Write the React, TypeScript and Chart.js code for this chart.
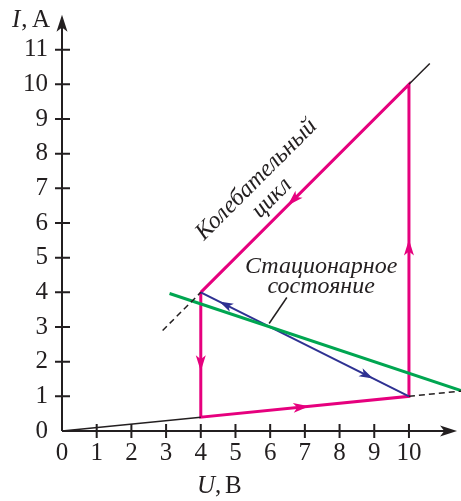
import React, { useEffect, useRef } from "react";
import { Chart, registerables } from "chart.js";

Chart.register(...registerables);

// ---- data ----
const X_TICKS = [0, 1, 2, 3, 4, 5, 6, 7, 8, 9, 10];
const Y_TICKS = [0, 1, 2, 3, 4, 5, 6, 7, 8, 9, 10, 11];
const X_MAX = 11.5;
const Y_MAX = 12;

// characteristic branches (black)
const LOWER_SOLID = [{ x: 0, y: 0 }, { x: 4, y: 0.4 }];
const LOWER_DASHED = [{ x: 10, y: 1 }, { x: 11.5, y: 1.15 }];
const UPPER_SOLID = [{ x: 10, y: 10 }, { x: 10.6, y: 10.6 }];
const UPPER_DASHED = [{ x: 2.9, y: 2.9 }, { x: 4, y: 4 }];
// oscillation cycle (magenta)
const CYCLE = [
  { x: 4, y: 4 },
  { x: 4, y: 0.4 },
  { x: 10, y: 1 },
  { x: 10, y: 10 },
  { x: 4, y: 4 },
];
// stationary state load line (green)
const STATIONARY = [{ x: 3.1, y: 3.967 }, { x: 11.5, y: 1.167 }];
// relaxation path (blue)
const RELAX = [{ x: 4, y: 4 }, { x: 10, y: 1 }];

// arrows: position and direction (data units)
const CYCLE_ARROWS = [
  { x: 4, y: 2.0, dx: 0, dy: -1 },
  { x: 6.85, y: 0.685, dx: 1, dy: 0.1 },
  { x: 10, y: 5.25, dx: 0, dy: 1 },
  { x: 6.7, y: 6.7, dx: -1, dy: -1 },
];
const RELAX_ARROWS = [
  { x: 4.75, y: 3.625, dx: -1, dy: 0.5 },
  { x: 8.75, y: 1.625, dx: 1, dy: -0.5 },
];

const LABELS = [
  { text: "Колебательный", x: 5.6, y: 7.25, angle: -45 },
  { text: "цикл", x: 6.05, y: 6.72, angle: -45 },
  { text: "Стационарное", x: 7.47, y: 4.74, angle: 0 },
  { text: "состояние", x: 7.47, y: 4.16, angle: 0 },
];
const LEADER = [{ x: 6.48, y: 3.85 }, { x: 5.97, y: 3.1 }];

const PINK = "#e6007e";
const GREEN = "#00a651";
const BLUE = "#2e3192";
const INK = "#231f20";
const SERIF = "'Liberation Serif', 'Times New Roman', serif";

function arrowHead(ctx: CanvasRenderingContext2D, px: number, py: number, ang: number, L: number, W: number, color: string) {
  ctx.save();
  ctx.translate(px, py);
  ctx.rotate(ang);
  ctx.fillStyle = color;
  ctx.beginPath();
  ctx.moveTo(L * 0.6, 0);
  ctx.lineTo(-L * 0.4, W / 2);
  ctx.lineTo(-L * 0.15, 0);
  ctx.lineTo(-L * 0.4, -W / 2);
  ctx.closePath();
  ctx.fill();
  ctx.restore();
}

const decorPlugin = {
  id: "decor",
  beforeDatasetsDraw(chart: any) {
    const ctx: CanvasRenderingContext2D = chart.ctx;
    const xs = chart.scales.x;
    const ys = chart.scales.y;
    const x0 = xs.getPixelForValue(0);
    const y0 = ys.getPixelForValue(0);
    const xTip = xs.getPixelForValue(11.38);
    const yTip = ys.getPixelForValue(12);
    ctx.save();
    ctx.strokeStyle = INK;
    ctx.lineWidth = 2;
    ctx.beginPath();
    ctx.moveTo(x0, y0);
    ctx.lineTo(xTip - 8, y0);
    ctx.moveTo(x0, y0);
    ctx.lineTo(x0, yTip + 8);
    ctx.stroke();
    // ticks
    ctx.lineWidth = 2;
    ctx.beginPath();
    X_TICKS.forEach((v) => {
      if (v === 0) return;
      const px = xs.getPixelForValue(v);
      ctx.moveTo(px, y0 - 7);
      ctx.lineTo(px, y0 + 7);
    });
    Y_TICKS.forEach((v) => {
      if (v === 0) return;
      const py = ys.getPixelForValue(v);
      ctx.moveTo(x0 - 7, py);
      ctx.lineTo(x0 + 8, py);
    });
    ctx.stroke();
    arrowHead(ctx, xTip - 10, y0, 0, 17, 11, INK);
    arrowHead(ctx, x0, yTip + 10, -Math.PI / 2, 17, 11, INK);
    // axis titles
    ctx.fillStyle = INK;
    ctx.textBaseline = "alphabetic";
    ctx.textAlign = "left";
    ctx.font = `italic 25px ${SERIF}`;
    ctx.fillText("I", 12, 27);
    let w = ctx.measureText("I").width;
    ctx.font = `25px ${SERIF}`;
    ctx.fillText(",", 12 + w + 1, 27);
    ctx.fillText("A", 32, 27);
    ctx.font = `italic 25px ${SERIF}`;
    ctx.fillText("U", 197, 493);
    w = ctx.measureText("U").width;
    ctx.font = `25px ${SERIF}`;
    ctx.fillText(",", 197 + w, 493);
    ctx.fillText("B", 225, 493);
    ctx.restore();
  },
  afterDatasetsDraw(chart: any) {
    const ctx: CanvasRenderingContext2D = chart.ctx;
    const xs = chart.scales.x;
    const ys = chart.scales.y;
    const dirAngle = (a: any) => {
      const p0x = xs.getPixelForValue(a.x);
      const p0y = ys.getPixelForValue(a.y);
      const p1x = xs.getPixelForValue(a.x + a.dx);
      const p1y = ys.getPixelForValue(a.y + a.dy);
      return Math.atan2(p1y - p0y, p1x - p0x);
    };
    CYCLE_ARROWS.forEach((a) => {
      arrowHead(ctx, xs.getPixelForValue(a.x), ys.getPixelForValue(a.y), dirAngle(a), 16, 10, PINK);
    });
    RELAX_ARROWS.forEach((a) => {
      arrowHead(ctx, xs.getPixelForValue(a.x), ys.getPixelForValue(a.y), dirAngle(a), 14, 9, BLUE);
    });
    // leader line
    ctx.save();
    ctx.strokeStyle = INK;
    ctx.lineWidth = 1.5;
    ctx.beginPath();
    ctx.moveTo(xs.getPixelForValue(LEADER[0].x), ys.getPixelForValue(LEADER[0].y));
    ctx.lineTo(xs.getPixelForValue(LEADER[1].x), ys.getPixelForValue(LEADER[1].y));
    ctx.stroke();
    ctx.fillStyle = INK;
    ctx.font = `italic 24px ${SERIF}`;
    ctx.textAlign = "center";
    ctx.textBaseline = "middle";
    LABELS.forEach((l) => {
      ctx.save();
      ctx.translate(xs.getPixelForValue(l.x), ys.getPixelForValue(l.y));
      ctx.rotate((l.angle * Math.PI) / 180);
      ctx.fillText(l.text, 0, 0);
      ctx.restore();
    });
    ctx.restore();
  },
};

function line(data: { x: number; y: number }[], color: string, width: number, dash: number[] = []) {
  return {
    data,
    borderColor: color,
    backgroundColor: color,
    borderWidth: width,
    borderDash: dash,
    showLine: true,
    pointRadius: 0,
    fill: false,
    tension: 0,
    clip: false as any,
  };
}

export default function App() {
  const ref = useRef<HTMLCanvasElement>(null);
  useEffect(() => {
    if (!ref.current) return;
    const chart = new Chart(ref.current, {
      type: "scatter",
      data: {
        datasets: [
          line(LOWER_SOLID, INK, 1.5),
          line(LOWER_DASHED, INK, 1.5, [6, 4]),
          line(UPPER_SOLID, INK, 1.5),
          line(UPPER_DASHED, INK, 1.5, [6, 4]),
          line(STATIONARY, GREEN, 3),
          line(RELAX, BLUE, 2),
          { ...line(CYCLE, PINK, 3), borderJoinStyle: "miter" as any },
        ],
      },
      options: {
        animation: false,
        responsive: false,
        devicePixelRatio: 1,
        layout: { padding: { top: 15, right: 0, left: 0, bottom: 0 } },
        plugins: { legend: { display: false }, tooltip: { enabled: false } },
        scales: {
          x: {
            type: "linear",
            min: 0,
            max: X_MAX,
            grid: { display: false, drawTicks: false },
            border: { display: false },
            afterBuildTicks: (s: any) => {
              s.ticks = X_TICKS.map((v) => ({ value: v }));
            },
            afterFit: (s: any) => {
              s.height = 70;
              s.paddingLeft = 0;
              s.paddingRight = 0;
              s.paddingTop = 0;
              s.paddingBottom = 0;
            },
            ticks: {
              padding: 7,
              maxRotation: 0,
              color: INK,
              font: { family: SERIF, size: 25 },
              callback: (v: any) => String(v),
            },
          },
          y: {
            type: "linear",
            min: 0,
            max: Y_MAX,
            grid: { display: false, drawTicks: false },
            border: { display: false },
            afterBuildTicks: (s: any) => {
              s.ticks = Y_TICKS.map((v) => ({ value: v }));
            },
            afterFit: (s: any) => {
              s.width = 62;
              s.paddingLeft = 0;
              s.paddingRight = 0;
              s.paddingTop = 0;
              s.paddingBottom = 0;
            },
            ticks: {
              padding: 14,
              color: INK,
              font: { family: SERIF, size: 25 },
              callback: (v: any) => String(v),
            },
          },
        },
      },
      plugins: [decorPlugin],
    });
    return () => chart.destroy();
  }, []);
  return (
    <div style={{ position: "absolute", left: 0, top: 0, width: 461, height: 501, background: "#fff" }}>
      <canvas ref={ref} width={461} height={501} style={{ display: "block" }} />
    </div>
  );
}
